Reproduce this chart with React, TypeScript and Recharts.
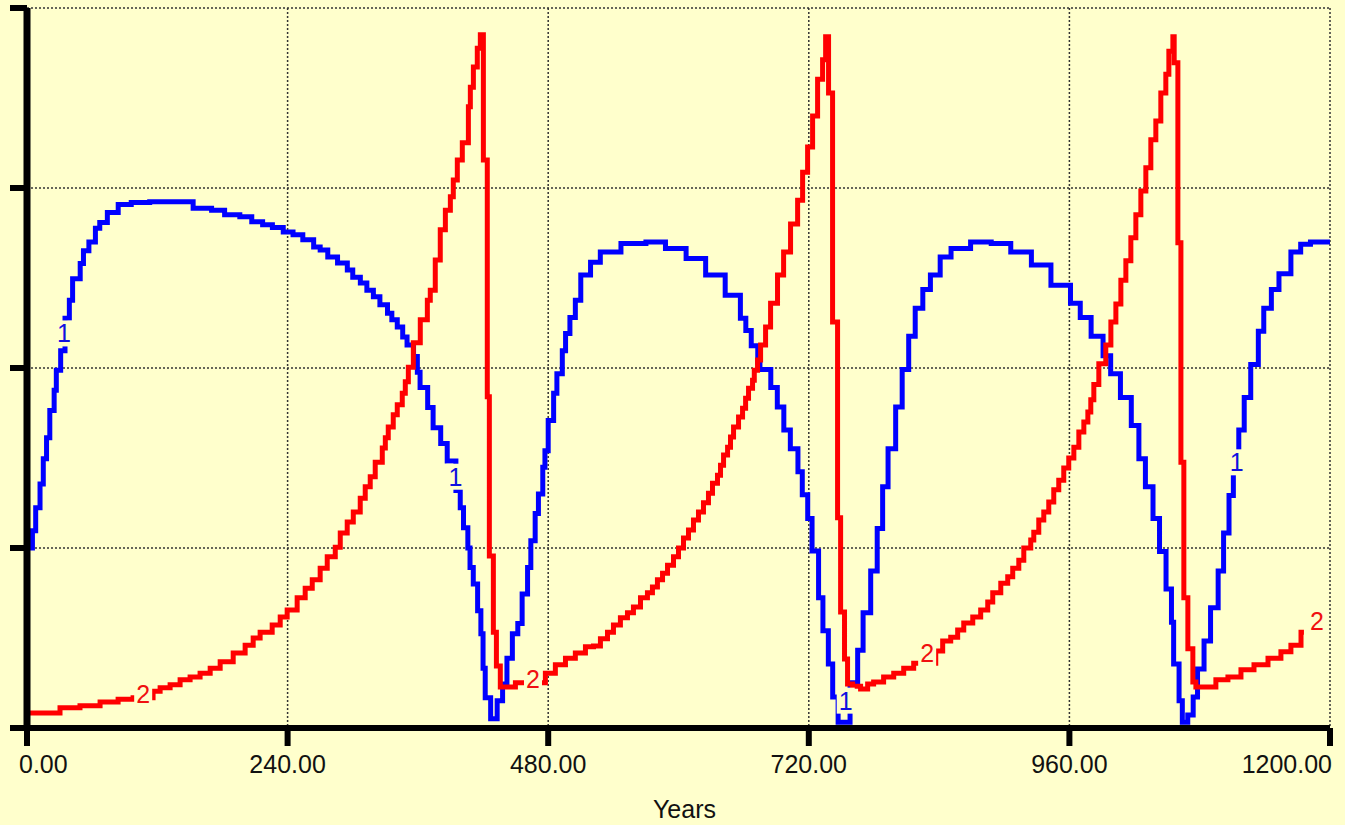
import { LineChart, Line, XAxis, YAxis, CartesianGrid, ReferenceDot } from "recharts";

// simulated run, 0..1200 years, two stocks (1 = blue, 2 = red)
const xTicks = [0, 240, 480, 720, 960, 1200];
const yTicks = [0, 25, 50, 75, 100];

const blueYears = [
  0, 5, 8, 12, 15, 18, 21, 25, 27, 31, 35, 39, 42, 49, 52, 57, 63, 67, 74, 84, 96, 113, 125, 153,
  170, 182, 196, 207, 217, 226, 236, 245, 254, 264, 270, 277, 286, 295, 300, 307, 313, 319, 325,
  332, 336, 341, 346, 350, 356, 359.5, 362, 369, 374, 381, 387, 395, 399, 402, 406, 408, 411, 415,
  418, 420, 422, 427, 433, 438, 442, 447, 452, 456, 461, 464, 468, 471, 475, 477, 480, 485, 488,
  493, 496, 500, 505, 510, 519, 528, 547, 570, 588, 607, 625, 643, 657, 662, 667, 673, 675, 685,
  691, 697, 703, 710, 714, 719, 723, 729, 733, 738, 742, 747, 758, 765, 770, 777, 783, 788, 793,
  800, 806, 812, 818, 825, 832, 841, 851, 869, 888, 906, 925, 943, 961, 970, 980, 991, 998, 1007,
  1017, 1024, 1030, 1037, 1043, 1049, 1054, 1056, 1061, 1064, 1069, 1074, 1078, 1084, 1090, 1097,
  1102, 1107, 1111, 1116, 1121, 1127, 1134, 1139, 1146, 1153, 1164, 1173, 1182, 1200,
];
const blueValues = [
  25.0, 27.4, 30.6, 33.9, 37.4, 40.3, 44.1, 46.9, 49.7, 52.4, 56.9, 59.4, 62.4, 64.5, 66.3, 67.5,
  69.4, 70.2, 71.6, 72.7, 73.0, 73.1, 73.1, 72.2, 71.9, 71.3, 71.0, 70.3, 69.9, 69.5, 68.9, 68.5,
  67.8, 66.8, 66.4, 65.4, 64.6, 63.6, 62.6, 61.8, 60.8, 59.9, 58.8, 57.6, 56.7, 55.7, 54.3, 53.2,
  51.6, 49.4, 47.3, 44.5, 41.7, 39.5, 37.1, 33.0, 30.6, 27.8, 25.0, 22.3, 20.0, 16.3, 13.1, 8.3,
  4.2, 1.3, 3.8, 6.1, 9.7, 13.1, 14.5, 18.6, 22.3, 26.0, 29.8, 32.5, 36.2, 38.5, 42.7, 46.5, 49.2,
  52.4, 54.8, 57.0, 59.4, 62.9, 64.7, 66.1, 67.3, 67.5, 66.6, 65.2, 62.9, 60.1, 56.9, 55.2, 53.1,
  50.8, 49.8, 47.3, 44.6, 41.4, 38.8, 35.6, 32.4, 29.1, 24.6, 18.1, 13.5, 8.9, 4.3, 0.8, 6.3, 10.8,
  16.0, 21.8, 27.7, 33.5, 38.8, 44.6, 49.8, 54.4, 58.3, 60.9, 62.9, 65.4, 66.6, 67.5, 67.3, 66.1,
  64.3, 61.5, 59.0, 57.0, 54.4, 51.7, 49.2, 45.9, 42.0, 37.4, 33.5, 29.1, 24.5, 19.3, 14.7, 8.9,
  3.8, 0.8, 1.8, 4.3, 8.2, 12.1, 16.7, 21.8, 27.1, 32.3, 36.2, 41.4, 45.9, 50.5, 55.1, 58.3, 60.9,
  63.1, 66.1, 67.2, 67.5, 67.5,
];

const redYears = [
  0, 30.4, 48.8, 67.3, 83.9, 97.7, 116.1, 122.6, 131.8, 141, 150.2, 159.4, 168.7, 177.9, 189.9,
  200.9, 208.3, 214.7, 225.8, 233.2, 239.6, 248.8, 256.2, 262.7, 270, 276.5, 283.9, 288.5, 294.9,
  300.5, 306.9, 311.5, 316.1, 320.7, 327.2, 330, 332.7, 337.3, 341, 345.6, 348.4, 351.2, 355.8,
  362.2, 368.7, 371.4, 376, 380.6, 385.3, 389.9, 392.6, 396.3, 400.9, 406.5, 408.3, 411.1, 414.7,
  417.5, 420.3, 423.9, 425.8, 429.5, 432.3, 435.9, 449.8, 477.4, 486.6, 495.9, 505, 514.3, 521.7,
  528.1, 534.6, 540.1, 546.5, 553, 558.5, 565, 571.4, 576, 580.6, 585.3, 589.9, 595.4, 600, 604.6,
  609.2, 613.8, 618.4, 623, 627.6, 631.3, 635.9, 638.7, 641.5, 645.2, 647.9, 650.7, 655.3, 659,
  661.8, 664.5, 668.2, 669.8, 672.8, 675.6, 680.2, 684.8, 691.2, 696.8, 703.2, 709.7, 714.3, 718.9,
  723.5, 728.1, 732.7, 735.5, 738.2, 741.9, 746.5, 749.3, 752.9, 755.7, 760.4, 767.7, 774.2, 779.7,
  788.9, 798.2, 807.4, 816.6, 836.9, 843.3, 850.7, 857.1, 862.7, 871, 878.3, 884.8, 889.4, 896.8,
  903.2, 907.8, 913.4, 918, 924.4, 927.2, 931.8, 936.4, 941, 945.6, 950.2, 954.8, 959.4, 964.1,
  968.7, 973.3, 977, 979.7, 982.5, 987.1, 993.5, 998.2, 1002.8, 1007.4, 1012, 1016.6, 1021.2,
  1025.8, 1030.4, 1035, 1039.6, 1044.2, 1048.8, 1051.6, 1055.3, 1056.5, 1059.9, 1062.7, 1065.4,
  1069.1, 1073.7, 1076.5, 1094.9, 1106, 1118, 1130, 1142.9, 1154.8, 1164, 1173.3, 1176,
];
const redValues = [
  2.1, 2.8, 3.1, 3.6, 4.0, 4.2, 5.1, 5.6, 6.0, 6.7, 7.1, 7.6, 8.3, 9.2, 10.4, 11.5, 12.5, 13.3,
  14.3, 15.4, 16.4, 18.1, 19.4, 20.6, 22.2, 23.8, 25.1, 27.1, 28.6, 30.0, 31.9, 33.5, 34.9, 36.9,
  38.9, 40.3, 41.8, 43.5, 44.9, 46.5, 48.1, 50.1, 53.5, 56.7, 59.4, 60.8, 65.0, 69.2, 71.9, 73.8,
  76.1, 78.9, 81.3, 86.3, 89.0, 91.8, 94.4, 96.3, 78.9, 46.0, 23.9, 13.3, 8.6, 5.7, 6.3, 7.6, 8.8,
  9.7, 10.4, 11.3, 11.4, 12.4, 13.3, 14.3, 15.3, 16.0, 16.8, 18.1, 18.8, 19.6, 20.6, 21.5, 22.6,
  23.8, 25.0, 26.4, 27.5, 28.9, 30.0, 31.3, 32.6, 34.0, 35.1, 36.5, 37.9, 39.0, 40.4, 41.8, 43.2,
  44.4, 45.8, 47.2, 48.3, 49.7, 51.1, 53.2, 55.7, 59.0, 62.9, 66.1, 70.0, 73.3, 77.2, 80.7, 85.0,
  90.1, 92.8, 96.0, 88.2, 56.4, 29.2, 16.1, 9.6, 6.1, 5.8, 5.4, 6.1, 6.4, 7.1, 7.6, 8.3, 9.0, 10.7,
  12.1, 12.6, 13.6, 14.6, 15.4, 16.4, 17.5, 18.8, 20.1, 21.0, 22.2, 23.3, 25.0, 26.1, 27.2, 28.9,
  30.0, 31.4, 33.1, 34.4, 36.1, 37.5, 39.0, 41.1, 42.5, 43.9, 45.6, 47.7, 50.6, 53.2, 56.4, 58.9,
  62.2, 64.9, 68.1, 71.3, 74.6, 77.8, 81.7, 84.3, 88.2, 90.8, 94.0, 96.0, 92.4, 67.4, 36.9, 18.1,
  11.0, 6.4, 5.7, 6.7, 7.1, 8.1, 8.8, 9.7, 10.6, 11.5, 13.3, 13.3,
];

// series number labels drawn on the curves: [year, value]
const blueLabels = [
  [34, 54.8],
  [394.5, 34.9],
  [754, 3.8],
  [1114, 36.9],
];
const redLabels = [
  [107, 4.7],
  [466, 6.8],
  [829, 10.4],
  [1188, 14.9],
];

const FONT = "'Liberation Sans', Arial, sans-serif";
const BG = "#FFFFCC";

const blueData = blueYears.map((year, i) => ({ year, value: blueValues[i] }));
const redData = redYears.map((year, i) => ({ year, value: redValues[i] }));

function YearTick(props: any) {
  const { x, y, payload } = props;
  const first = payload.value === xTicks[0];
  const last = payload.value === xTicks[xTicks.length - 1];
  const anchor = first ? "start" : last ? "end" : "middle";
  const dx = first ? -8 : last ? 3 : 0;
  return (
    <text x={x + dx} y={y} dy={25} textAnchor={anchor} fontSize={25} fill="#111" fontFamily={FONT}>
      {Number(payload.value).toFixed(2)}
    </text>
  );
}

const seriesLabel = (text: string, color: string) => (p: any) => (
  <g>
    <rect x={p.cx - 9} y={p.cy - 13} width={18} height={26} fill={BG} />
    <text x={p.cx} y={p.cy + 9} textAnchor="middle" fontSize={25} fill={color} fontFamily={FONT}>
      {text}
    </text>
  </g>
);

export default function App() {
  return (
    <div style={{ position: "absolute", left: 0, top: 0, width: 1345, height: 825, background: BG }}>
      <LineChart width={1345} height={825} margin={{ top: 8, right: 15, left: 0, bottom: 0 }}>
        <CartesianGrid stroke="#333" strokeDasharray="2 2" strokeWidth={1.5} />
        <XAxis
          type="number"
          dataKey="year"
          domain={[0, 1200]}
          ticks={xTicks}
          allowDataOverflow
          height={97}
          tickSize={18}
          tickMargin={2}
          axisLine={{ stroke: "#000", strokeWidth: 6 }}
          tickLine={{ stroke: "#000", strokeWidth: 6 }}
          tick={<YearTick />}
          label={{ value: "Years", position: "insideBottom", offset: 7, fontSize: 25, fill: "#111", fontFamily: FONT, dx: 6 }}
        />
        <YAxis
          type="number"
          domain={[0, 100]}
          ticks={yTicks}
          width={27}
          tickSize={17}
          axisLine={{ stroke: "#000", strokeWidth: 7 }}
          tickLine={{ stroke: "#000", strokeWidth: 6 }}
          tick={() => <g />}
        />
        <Line
          data={blueData}
          dataKey="value"
          type="stepAfter"
          stroke="#0000FF"
          strokeWidth={5}
          dot={false}
          isAnimationActive={false}
        />
        <Line
          data={redData}
          dataKey="value"
          type="stepAfter"
          stroke="#FF0000"
          strokeWidth={5}
          dot={false}
          isAnimationActive={false}
        />
        {blueLabels.map(([x, y], i) => (
          <ReferenceDot key={"b" + i} x={x} y={y} r={0} ifOverflow="visible" shape={seriesLabel("1", "#1010E0")} />
        ))}
        {redLabels.map(([x, y], i) => (
          <ReferenceDot key={"r" + i} x={x} y={y} r={0} ifOverflow="visible" shape={seriesLabel("2", "#F01010")} />
        ))}
      </LineChart>
    </div>
  );
}
